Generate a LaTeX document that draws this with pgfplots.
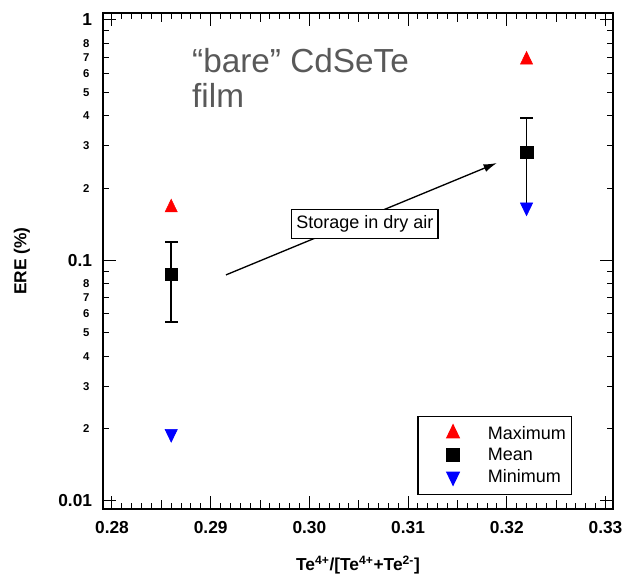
\documentclass[border=0pt]{standalone}
\usepackage{fontspec}
\setmainfont{Liberation Sans}
\usepackage{pgfplots}
\pgfplotsset{compat=1.18}
\usetikzlibrary{arrows.meta}
\definecolor{txtgray}{RGB}{89,89,89}
\begin{document}
\begin{tikzpicture}
\begin{axis}[
  name=ax,
  scale only axis,
  width=382.5pt, height=372pt,
  xmin=0.27909, xmax=0.33076,
  ymode=log, ymin=0.00926, ymax=1.069,
  axis line style={line width=1pt},
  tick style={line width=0.75pt, black},
  major tick length=9.75pt, minor tick length=4.5pt,
  xtick={0.28,0.29,0.30,0.31,0.32,0.33},
  xticklabels={0.28,0.29,0.30,0.31,0.32,0.33},
  minor x tick num=9,
  extra x ticks={0.285,0.295,0.305,0.315,0.325},
  extra x tick labels={},
  extra x tick style={major tick length=7pt},
  ytick={0.01,0.1,1},
  yticklabels={0.01,0.1,1},
  extra y ticks={0.02,0.03,0.04,0.05,0.06,0.07,0.08,0.2,0.3,0.4,0.5,0.6,0.7,0.8},
  extra y tick labels={2,3,4,5,6,7,8,2,3,4,5,6,7,8},
  extra y tick style={major tick length=4.5pt,
    yticklabel style={font=\fontsize{8.5}{9}\selectfont\bfseries, inner sep=0pt, xshift=-2pt}},
  tick label style={font=\fontsize{13}{15}\selectfont\bfseries},
  xticklabel style={anchor=base, yshift=-18pt},
  yticklabel style={anchor=east, inner sep=0pt, xshift=-8pt},
  xlabel={\textbf{Te\textsuperscript{4+}/[Te\textsuperscript{4+}+Te\textsuperscript{2-}]}},
  ylabel={\textbf{ERE (\%)}},
  label style={font=\fontsize{13}{15}\selectfont},
  x label style={at={(axis description cs:0.5,0)}, anchor=base, yshift=-45.75pt},
  y label style={at={(axis description cs:-0.159,0.5)}, anchor=center, rotate=0},
  legend image code/.code={
    \path (0pt,0pt) (47.5pt,0pt);
    \draw[#1,mark repeat=2,mark phase=2] plot coordinates {(0pt,1pt) (21.8pt,1pt) (40pt,1pt)};
  },
  legend style={at={(0.6163,0.1881)}, anchor=north west, draw=black, line width=1pt,
    font=\fontsize{13.5}{16}\selectfont, inner xsep=4pt, inner ysep=6.5pt,
    row sep=4.3pt, column sep=0pt,
    nodes={inner sep=0pt, text height=9.3pt, text depth=2.5pt}},
  legend cell align=left,
]
% error bars
\addplot[black, line width=1.3pt, forget plot]
  coordinates {(0.286,0.0555) (0.286,0.1197)};
\addplot[black, line width=1.3pt, forget plot]
  coordinates {(0.322,0.164) (0.322,0.390)};
\addplot[only marks, black, line width=1.3pt, mark=-, mark size=4.75pt, forget plot]
  coordinates {(0.286,0.0555) (0.286,0.1197) (0.322,0.390)};
% maximum
\addplot[only marks, mark=triangle*, mark size=5.3pt, mark options={yscale=1.2, fill=red, draw=red}, red]
  coordinates {(0.286,0.1657) (0.322,0.682)};
\addlegendentry{Maximum}
% mean
\addplot[only marks, mark=square*, mark size=4.7pt, black]
  coordinates {(0.286,0.0876) (0.322,0.2818)};
\addlegendentry{Mean}
% minimum
\addplot[only marks, mark=triangle*, mark size=5.3pt, mark options={rotate=180, yscale=1.2, fill=blue, draw=blue}, blue]
  coordinates {(0.286,0.01904) (0.322,0.1665)};
\addlegendentry{Minimum}
% annotation
\draw[line width=1pt, -{Latex[length=10pt,width=6pt]}] (axis cs:0.29155,0.0871) -- (axis cs:0.3190,0.2543);
\node[draw, fill=white, line width=1pt, font=\fontsize{13.5}{16}\selectfont, inner xsep=3.5pt, inner ysep=4.5pt]
  at (axis cs:0.30563,0.1418) {Storage in dry air};
\node[anchor=north west, inner sep=0pt, align=left, text=txtgray, font=\fontsize{25}{26.25}\selectfont]
  at (axis cs:0.2881,0.765) {“bare” CdSeTe\\film};
\end{axis}
\pgfresetboundingbox
\path ([shift={(-77.25pt,-51.75pt)}]ax.south west) rectangle ([shift={(9pt,9.75pt)}]ax.north east);
\end{tikzpicture}
\end{document}
